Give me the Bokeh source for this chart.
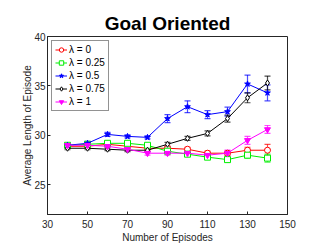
from bokeh.plotting import figure
from bokeh.models import ColumnDataSource, Whisker, FixedTicker, Range1d, TeeHead, Legend
from bokeh.embed import file_html
from bokeh.resources import INLINE

episodes = [40, 50, 60, 70, 80, 90, 100, 110, 120, 130, 140]
labels = ["λ = 0", "λ = 0.25", "λ = 0.5", "λ = 0.75", "λ = 1"]
lam0 = [28.9, 28.9, 29.1, 28.9, 28.7, 28.7, 28.6, 28.2, 28.2, 28.5, 28.5]
lam025 = [29.0, 29.1, 29.2, 29.2, 29.0, 28.4, 28.1, 27.8, 27.55, 28.0, 27.7]
lam05 = [29.0, 29.2, 30.1, 29.9, 29.8, 31.7, 32.9, 32.1, 32.4, 35.2, 34.3]
lam075 = [28.7, 28.7, 28.6, 28.5, 28.5, 29.1, 29.7, 30.2, 31.7, 33.8, 35.3]
lam1 = [29.0, 29.0, 28.9, 28.6, 28.2, 28.2, 28.2, 28.0, 28.2, 29.5, 30.6]
err0 = [0.15, 0.15, 0.2, 0.15, 0.15, 0.2, 0.2, 0.2, 0.2, 0.3, 0.6]
err025 = [0.15, 0.15, 0.15, 0.2, 0.15, 0.2, 0.2, 0.2, 0.2, 0.3, 0.4]
err05 = [0.15, 0.2, 0.2, 0.15, 0.15, 0.4, 0.6, 0.4, 0.45, 0.9, 0.8]
err075 = [0.15, 0.15, 0.15, 0.15, 0.15, 0.2, 0.2, 0.25, 0.35, 0.5, 0.7]
err1 = [0.15, 0.15, 0.15, 0.15, 0.2, 0.2, 0.2, 0.2, 0.3, 0.4, 0.4]
x_ticks = [30, 50, 70, 90, 110, 130, 150]
y_ticks = [25, 30, 35, 40]

FONT = "Liberation Sans"
AX = "#262626"

p = figure(width=320, height=245, output_backend="svg", toolbar_location=None,
           x_range=Range1d(30, 150), y_range=Range1d(22, 40),
           min_border_left=47, min_border_right=33, min_border_top=36, min_border_bottom=31,
           title="Goal Oriented")
p.title.align = "center"
p.title.text_font = FONT
p.title.text_font_size = "19px"
p.title.text_font_style = "bold"
p.title.text_color = "black"
p.title.standoff = 6

p.grid.visible = False
p.outline_line_color = AX
p.outline_line_width = 1

for ax in p.xaxis + p.yaxis:
    ax.major_tick_in = 3
    ax.major_tick_out = 0
    ax.minor_tick_line_color = None
    ax.axis_line_color = AX
    ax.major_tick_line_color = AX
    ax.major_label_text_font = FONT
    ax.major_label_text_font_size = "10px"
    ax.major_label_text_color = AX
    ax.axis_label_text_font = FONT
    ax.axis_label_text_font_size = "10px"
    ax.axis_label_text_font_style = "normal"
    ax.axis_label_text_color = AX
p.xaxis.ticker = FixedTicker(ticks=x_ticks)
p.yaxis.ticker = FixedTicker(ticks=y_ticks)
p.xaxis.axis_label = "Number of Episodes"
p.yaxis.axis_label = "Average Length of Episode"
p.xaxis.major_label_standoff = 5
p.xaxis.axis_label_standoff = 1
p.yaxis.major_label_standoff = 2
p.yaxis.axis_label_standoff = -2

series = [
    (lam0, err0, "#ff0000", "circle", "white"),
    (lam025, err025, "#00ee00", "square", "white"),
    (lam05, err05, "#0000ff", "star", "#0000ff"),
    (lam075, err075, "#000000", "diamond", "white"),
    (lam1, err1, "#ff00ff", "inverted_triangle", "#ff00ff"),
]
items = []
for (vals, err, col, mk, fill), lab in zip(series, labels):
    src = ColumnDataSource(dict(x=episodes, y=vals,
                                lo=[v - e for v, e in zip(vals, err)],
                                hi=[v + e for v, e in zip(vals, err)]))
    ln = p.line("x", "y", source=src, line_color=col, line_width=1)
    w = Whisker(base="x", lower="lo", upper="hi", source=src, dimension="height",
                line_color=col, line_alpha=0.7, line_width=1.2,
                lower_head=TeeHead(size=6, line_color=col, line_alpha=0.7, line_width=1.2),
                upper_head=TeeHead(size=6, line_color=col, line_alpha=0.7, line_width=1.2))
    p.add_layout(w)
    sc = p.scatter("x", "y", source=src, marker=mk, size=6, line_color=col,
                   fill_color=fill, line_width=1)
    items.append((lab, [ln, sc]))

legend = Legend(items=items, location="top_left")
legend.label_text_font = FONT
legend.label_text_font_size = "10px"
legend.label_text_color = "black"
legend.label_height = 11
legend.glyph_height = 11
legend.glyph_width = 12
legend.spacing = 2
legend.padding = 3
legend.margin = 4
legend.label_standoff = 2
legend.border_line_color = AX
legend.border_line_width = 1
legend.background_fill_alpha = 1
p.add_layout(legend)

open("out.html", "w").write(file_html(p, INLINE))
